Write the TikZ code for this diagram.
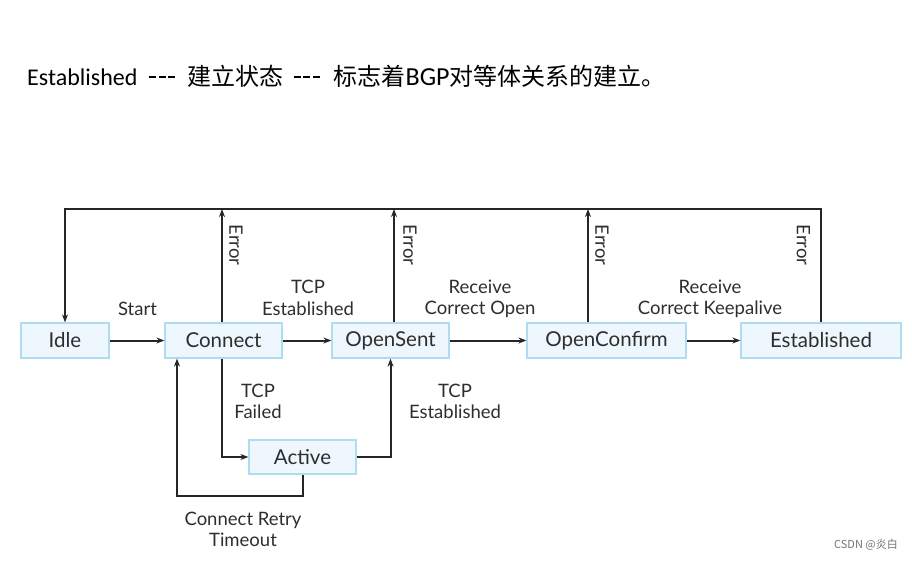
\documentclass[tikz,border=0pt]{standalone}
\usepackage{fontspec}
\setmainfont{Carlito}
\newfontfamily\cjk{Noto Sans CJK SC}
\newfontfamily\dia{Lato}
\usetikzlibrary{arrows.meta}
\definecolor{txt}{HTML}{2E2E2E}
\definecolor{boxfill}{HTML}{EEF7FD}
\definecolor{boxline}{HTML}{B0DCF2}
\newcommand{\dsh}{\rule[7.5pt]{6.8pt}{2.3pt}\kern2.6pt\rule[7.5pt]{6.8pt}{2.3pt}\kern2.6pt\rule[7.5pt]{6.8pt}{2.3pt}}
\newcommand{\zh}[1]{{\cjk\fontsize{24}{28}\selectfont #1}}
\begin{document}
\begin{tikzpicture}[x=1pt,y=-1pt,
  state/.style={draw=boxline,fill=boxfill,line width=1.2pt,minimum height=35pt,inner sep=0pt,
    text=txt,font=\dia\fontsize{20.5}{24}\selectfont},
  lbl/.style={text=txt,align=center,inner sep=0pt,font=\dia\fontsize{18.5}{21.5}\selectfont},
  arr/.style={draw=black!85,line width=2pt,-{Stealth[length=8pt,width=6pt]}},
  ln/.style={draw=black!85,line width=2pt}]
\useasboundingbox[fill=white] (0,0) rectangle (912,561);
% title
\node[anchor=base west,inner sep=0pt,text=black] (title) at (27,86)
  {\fontsize{24}{28}\selectfont Established\hspace{12pt}\dsh\hspace{12pt}\zh{建立状态}\hspace{11pt}\dsh\hspace{14pt}\zh{标志着}{\fontsize{26}{28}\selectfont BGP}\zh{对等体关系的建立。}};
% states
\node[state,minimum width=88pt] (idle) at (65,340.5) {Idle};
\node[state,minimum width=117pt] (connect) at (223.5,340.5) {Connect};
\node[state,minimum width=117pt] (opensent) at (390.5,340.5) {OpenSent};
\node[state,minimum width=159pt] (openconfirm) at (606.5,340.5) {OpenConfirm};
\node[state,minimum width=160pt] (established) at (821,340.5) {Established};
\node[state,minimum width=107pt,minimum height=34pt] (active) at (302.5,457) {Active};
% top error bus
\coordinate (top) at (0,209);
\draw[arr] (established.north) -- (established.north |- top) -- (idle.north |- top) -- (idle.north);
\draw[arr] ([xshift=-1.5pt]connect.north) -- ([xshift=-1.5pt]connect.north |- top);
\draw[arr] ([xshift=3.5pt]opensent.north) -- ([xshift=3.5pt]opensent.north |- top);
\draw[arr] ([xshift=-18.5pt]openconfirm.north) -- ([xshift=-18.5pt]openconfirm.north |- top);
% main transitions
\draw[arr] (idle) -- (connect);
\draw[arr] (connect) -- (opensent);
\draw[arr] (opensent) -- (openconfirm);
\draw[arr] (openconfirm) -- (established);
% active loop
\draw[arr] ([xshift=-1.5pt]connect.south) |- (active.west);
\draw[arr] (active.east) -| (opensent.south);
\coordinate (loop) at (177,496);
\draw[arr] (active.south) |- (loop) -- (loop |- connect.south);
% labels
\node[lbl] (lstart) at (137.5,309) {Start};
\node[lbl] (ltcpe) at (308,298) {TCP\\Established};
\node[lbl] (lrco) at (480,299) {Receive\\Correct Open};
\node[lbl] (lrck) at (710,299) {Receive\\Correct Keepalive};
\node[lbl] (ltcpf) at (258,401.5) {TCP\\Failed};
\node[lbl] (ltcpe2) at (455,401.5) {TCP\\Established};
\node[lbl] (lcrt) at (243,529.5) {Connect Retry\\Timeout};
\node[lbl,rotate=-90] (err1) at (236,245) {Error};
\node[lbl,rotate=-90] (err2) at (410,245) {Error};
\node[lbl,rotate=-90] (err3) at (602,245) {Error};
\node[lbl,rotate=-90] (err4) at (803.5,245) {Error};
% watermark
\node[text=black!55,inner sep=0pt,anchor=east,font=\cjk\fontsize{11}{13}\selectfont] (wm) at (898,545) {CSDN @炎白};
\end{tikzpicture}
\end{document}
